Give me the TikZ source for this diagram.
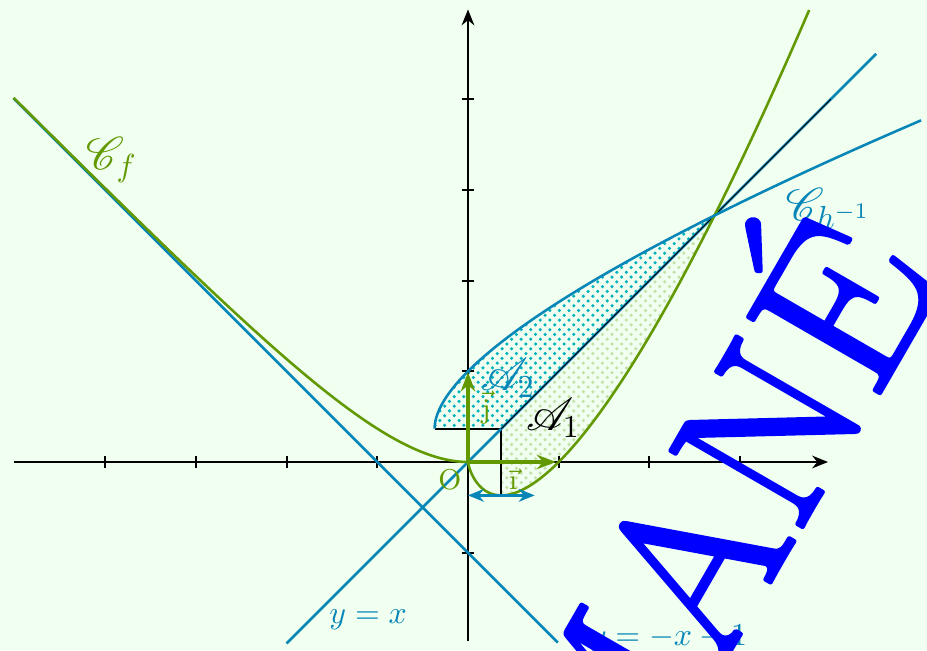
\documentclass[tikz,border=0pt]{standalone}
\usepackage{fontspec}
\usepackage{mathrsfs}
\usetikzlibrary{arrows.meta,patterns}
\definecolor{bgc}{RGB}{240,255,240}
\definecolor{cgreen}{RGB}{98,152,0}
\definecolor{cblue}{RGB}{8,134,184}
\definecolor{cdots}{RGB}{0,178,190}
\definecolor{pgreen}{RGB}{196,226,168}
\pgfdeclarepatternformonly{mydots}{\pgfqpoint{-0.7pt}{-0.7pt}}{\pgfqpoint{3.7pt}{3.7pt}}{\pgfqpoint{3pt}{3pt}}{%
  \pgfpathcircle{\pgfqpoint{0pt}{0pt}}{0.55pt}%
  \pgfpathcircle{\pgfqpoint{1.5pt}{1.5pt}}{0.55pt}%
  \pgfusepath{fill}}
\tikzset{
  axis/.style={line width=0.6pt,-{Stealth[length=5pt,width=4pt]}},
  tick/.style={line width=0.6pt},
  curvef/.style={cgreen,line width=0.8pt},
  curveb/.style={cblue,line width=0.8pt},
  vect/.style={cgreen,line width=1.1pt,-{Stealth[length=6pt,width=4.5pt]}},
  lbl/.style={inner sep=0pt},
  wmark/.style={blue,rotate=60,inner sep=0pt,anchor=base,font=\fontsize{70}{70}\selectfont},
}
\begin{document}
\begin{tikzpicture}[x=1cm,y=1cm]
\useasboundingbox (-5.160,-2.073) rectangle (5.061,5.094);
\fill[bgc] (-5.160,-2.073) rectangle (5.061,5.094);
\pgfmathsetmacro{\ie}{exp(-1)}
\pgfmathsetmacro{\ee}{exp(1)}
% regions
\fill[pattern=mydots,pattern color=cdots]
  (-\ie,\ie) -- (\ie,\ie) -- (\ee,\ee)
  -- plot[domain=\ee:\ie,samples=60] ({\x*ln(\x)},\x) -- cycle;
\fill[pattern=mydots,pattern color=pgreen]
  (\ie,\ie) -- (\ie,-\ie)
  -- plot[domain=\ie:\ee,samples=60] (\x,{\x*ln(\x)}) -- cycle;
\draw[line width=0.6pt] (-\ie,\ie) -- (\ie,\ie) -- (\ie,-\ie);
% axes
\coordinate (xs) at (-5.01,0); \coordinate (xe) at (3.97,0);
\coordinate (ys) at (0,-1.97); \coordinate (ye) at (0,4.99);
\draw[axis] (xs) -- (xe);
\draw[axis] (ys) -- (ye);
\foreach \k in {-4,-3,-2,-1,1,2,3} \draw[tick] (\k,-0.07) -- (\k,0.07);
\foreach \k in {-1,1,2,3,4} \draw[tick] (-0.07,\k) -- (0.07,\k);
% lines
\draw[curveb] (-5.01,4.01) -- (0.99,-1.99);
\draw[curveb] (-2,-2) -- (4.5,4.5);
\draw[black,line width=0.3pt] (\ie,\ie) -- (4,4);
% curves
\draw[curvef] plot[domain=-5.01:0,samples=120] (\x,{exp(\x)-\x-1})
  -- plot[domain=0.001:1.9412,samples=160] ({\x*\x},{2*\x*\x*ln(\x)});
\draw[curveb] plot[domain=\ie:3.768,samples=120] ({\x*ln(\x)},\x);
% vectors
\coordinate (O) at (0,0);
\coordinate (I) at (0.97,0);
\coordinate (J) at (0,0.99);
\draw[vect] (O) -- (I);
\draw[vect] (O) -- (J);
\draw[cblue,line width=0.8pt,{Stealth[length=5pt,width=4pt]}-{Stealth[length=5pt,width=4pt]}] (0,-\ie) -- (2*\ie,-\ie);
% labels
\node[lbl,cgreen] (lO) at (-0.2,-0.2) {\small O};
\node[lbl,cgreen] (li) at (0.5,-0.19) {\small $\vec{\mbox{\i}}$};
\node[lbl,cgreen] (lj) at (0.2,0.6) {\small $\vec{\mbox{j}}$};
\node[lbl,cgreen] (lCf) at (-3.93,3.33) {\Large $\mathscr{C}_f$};
\node[lbl,cblue] (lCh) at (3.97,2.80) {\Large $\mathscr{C}_{h^{-1}}$};
\node[lbl,cblue] (lA2) at (0.44,0.93) {\Large $\mathscr{A}_2$};
\node[lbl,black] (lA1) at (0.94,0.49) {\Large $\mathscr{A}_1$};
\node[lbl,cblue] (lyx) at (-1.1,-1.74) {$y=x$};
\node[lbl,cblue] (lyx1) at (2.21,-1.94) {$y=-x-1$};
% watermark: text filled and stroked
\coordinate (wmpos) at (3.49,-1.06);
\node[wmark] (wm) at (wmpos) {\special{pdf:literal direct 2 Tr 1.4 w 1 j}MANÉ\special{pdf:literal direct 0 Tr}};
\end{tikzpicture}
\end{document}
